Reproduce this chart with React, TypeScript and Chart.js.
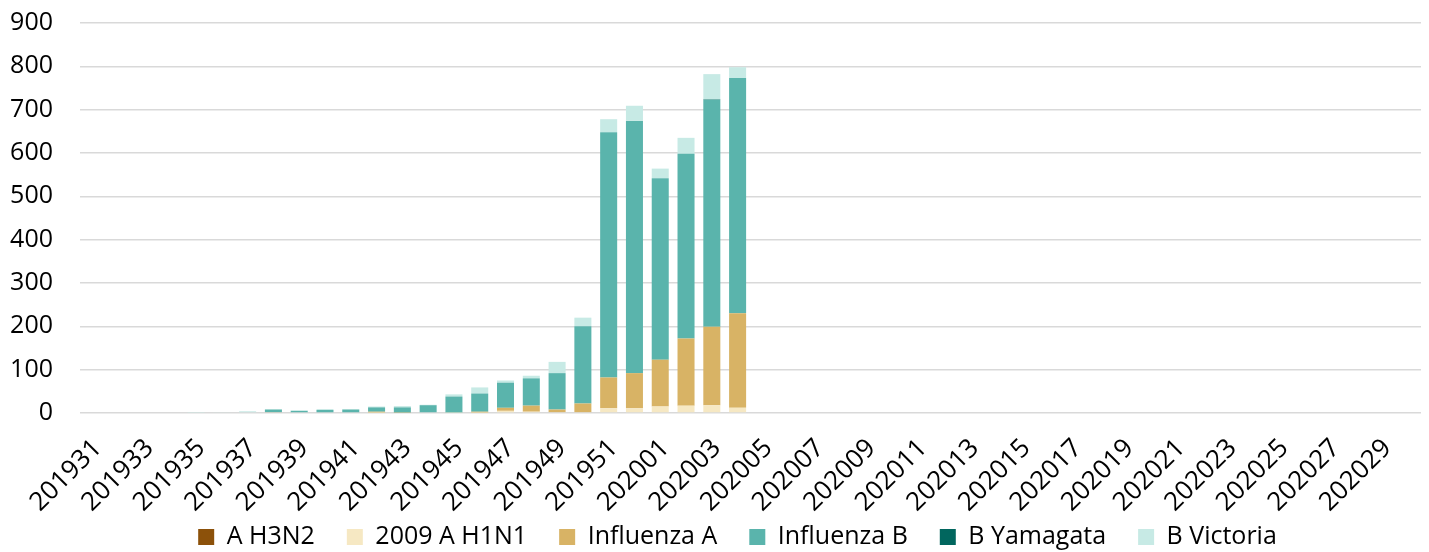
import { useEffect, useRef } from "react";
import { Chart, registerables } from "chart.js";

Chart.register(...registerables);

const weeks = [
  "201931", "201932", "201933", "201934", "201935", "201936", "201937", "201938",
  "201939", "201940", "201941", "201942", "201943", "201944", "201945", "201946",
  "201947", "201948", "201949", "201950", "201951", "201952",
  "202001", "202002", "202003", "202004", "202005", "202006", "202007", "202008",
  "202009", "202010", "202011", "202012", "202013", "202014", "202015", "202016",
  "202017", "202018", "202019", "202020", "202021", "202022", "202023", "202024",
  "202025", "202026", "202027", "202028", "202029", "202030",
];

const aH3N2 = [
  0, 0, 0, 0, 0, 0, 0, 0, 0, 0, 0, 0, 0, 0, 0, 0, 0, 0, 0, 0, 0, 0, 0, 0, 0, 0,
  0, 0, 0, 0, 0, 0, 0, 0, 0, 0, 0, 0, 0, 0, 0, 0, 0, 0, 0, 0, 0, 0, 0, 0, 0, 0,
];
const h1n1 = [
  0, 0, 0, 0, 0, 0, 0, 0, 0, 0, 0, 1, 0, 0, 1, 1, 5, 3, 2, 2, 11, 11, 15, 17, 18, 12,
  0, 0, 0, 0, 0, 0, 0, 0, 0, 0, 0, 0, 0, 0, 0, 0, 0, 0, 0, 0, 0, 0, 0, 0, 0, 0,
];
const influenzaA = [
  0, 0, 0, 0, 0, 0, 0, 2, 0, 0, 0, 2, 1, 0, 0, 2, 7, 14, 6, 20, 71, 81, 108, 155, 181, 218,
  0, 0, 0, 0, 0, 0, 0, 0, 0, 0, 0, 0, 0, 0, 0, 0, 0, 0, 0, 0, 0, 0, 0, 0, 0, 0,
];
const influenzaB = [
  0, 0, 0, 0, 0, 0, 0, 6, 5, 7, 8, 10, 12, 18, 37, 42, 58, 63, 84, 178, 566, 582, 419, 426, 524, 543,
  0, 0, 0, 0, 0, 0, 0, 0, 0, 0, 0, 0, 0, 0, 0, 0, 0, 0, 0, 0, 0, 0, 0, 0, 0, 0,
];
const bYamagata = [
  0, 0, 0, 0, 0, 0, 0, 0, 0, 0, 0, 0, 0, 0, 0, 0, 0, 0, 0, 0, 0, 0, 0, 0, 1, 0,
  0, 0, 0, 0, 0, 0, 0, 0, 0, 0, 0, 0, 0, 0, 0, 0, 0, 0, 0, 0, 0, 0, 0, 0, 0, 0,
];
const bVictoria = [
  0, 0, 0, 0, 1, 2, 4, 1, 1, 2, 1, 2, 3, 1, 5, 14, 5, 6, 26, 20, 30, 35, 22, 37, 58, 25,
  0, 0, 0, 0, 0, 0, 0, 0, 0, 0, 0, 0, 0, 0, 0, 0, 0, 0, 0, 0, 0, 0, 0, 0, 0, 0,
];

const seriesNames = ["A H3N2", "2009 A H1N1", "Influenza A", "Influenza B", "B Yamagata", "B Victoria"];
const seriesColors = ["#8c510a", "#f6e8c3", "#d8b365", "#5ab4ac", "#01665e", "#c7eae5"];
const yTicks = [0, 100, 200, 300, 400, 500, 600, 700, 800, 900];

const FONT = "'Open Sans', 'DejaVu Sans', sans-serif";

// Lets the rotated week labels and the y tick labels draw past their tightened layout boxes.
const labelRoom = {
  id: "labelRoom",
  afterLayout(chart: any) {
    chart.scales.x.bottom = chart.height;
    chart.scales.y.left = 0;
  },
};

export default function App() {
  const ref = useRef<HTMLCanvasElement | null>(null);

  useEffect(() => {
    if (!ref.current) return;
    const series = [aH3N2, h1n1, influenzaA, influenzaB, bYamagata, bVictoria];
    const chart = new Chart(ref.current, {
      type: "bar",
      data: {
        labels: weeks,
        datasets: series.map((d, i) => ({
          label: seriesNames[i],
          data: d,
          backgroundColor: seriesColors[i],
          borderWidth: 0,
          barPercentage: 0.66,
          categoryPercentage: 1,
        })),
      },
      plugins: [labelRoom],
      options: {
        animation: false,
        responsive: false,
        devicePixelRatio: 1,
        layout: { padding: { left: 54, right: 8, top: 23, bottom: -7.5 } },
        scales: {
          x: {
            stacked: true,
            grid: { display: false, drawTicks: true, tickLength: 17 },
            border: { display: false },
            ticks: {
              autoSkip: false,
              maxRotation: 45,
              minRotation: 45,
              padding: 3,
              labelOffset: 5,
              color: "#000",
              font: { family: FONT, size: 26 },
              callback: (_v: any, i: number) => (i % 2 === 0 ? weeks[i] : ""),
            },
            afterFit: (s: any) => {
              s.height = 79.5;
              s.paddingLeft = 0;
              s.paddingRight = 0;
            },
          },
          y: {
            stacked: true,
            min: yTicks[0],
            max: yTicks[yTicks.length - 1],
            grid: {
              color: "#d9d9d9",
              lineWidth: 1.5,
              drawTicks: true,
              tickLength: 24,
              tickColor: "rgba(0,0,0,0)",
            },
            border: { display: false },
            ticks: {
              stepSize: 100,
              padding: 3,
              color: "#000",
              font: { family: FONT, size: 25 },
            },
            afterFit: (s: any) => {
              s.width = 26;
              s.paddingTop = 0;
              s.paddingBottom = 0;
            },
          },
        },
        plugins: {
          tooltip: { enabled: false },
          legend: {
            position: "bottom",
            fullSize: true,
            labels: {
              boxWidth: 16,
              boxHeight: 16,
              padding: 32,
              color: "#000",
              font: { family: FONT, size: 25 },
            },
          },
        },
      },
    });
    return () => chart.destroy();
  }, []);

  return (
    <div style={{ position: "fixed", left: 0, top: 0, width: 1429, height: 552, background: "#fff" }}>
      <canvas ref={ref} width={1429} height={552} style={{ display: "block" }} />
    </div>
  );
}
